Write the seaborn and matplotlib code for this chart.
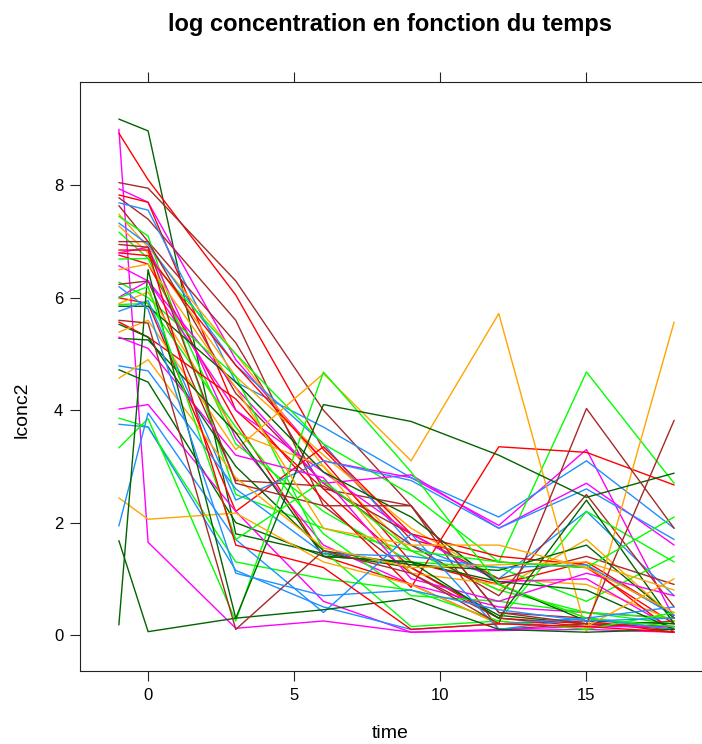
import numpy as np
import pandas as pd
import matplotlib
matplotlib.use("Agg")
import matplotlib.pyplot as plt
import seaborn as sns

times = [-1, 0, 3, 6, 9, 12, 15, 18]

colors = [
    "darkgreen", "magenta", "red", "brown", "magenta", "red", "brown", "dodgerblue",
    "brown", "orange", "lime", "dodgerblue", "orange", "lime", "brown", "red",
    "magenta", "red", "lime", "magenta", "lime", "brown", "magenta", "red",
    "orange", "lime", "darkgreen", "dodgerblue", "red", "darkgreen", "orange", "darkgreen",
    "magenta", "dodgerblue", "darkgreen", "orange", "magenta", "lime", "dodgerblue", "lime",
    "orange", "dodgerblue", "darkgreen", "darkgreen", "brown", "brown", "dodgerblue", "lime",
    "orange", "red",
]

lconc2 = [
    [9.18, 8.97, 1.80, 1.45, 1.20, 0.35, 0.20, 0.15],
    [9.00, 1.65, 0.12, 0.25, 0.05, 0.08, 0.10, 0.05],
    [8.93, 8.10, 6.05, 3.30, 1.70, 1.30, 1.20, 0.20],
    [8.05, 7.95, 6.30, 4.00, 2.30, 0.40, 0.30, 0.10],
    [7.94, 7.70, 4.90, 3.10, 2.80, 1.95, 3.30, 0.30],
    [7.83, 7.70, 4.00, 2.60, 1.20, 0.30, 0.20, 0.10],
    [7.78, 7.40, 5.60, 2.30, 1.10, 0.30, 0.15, 0.25],
    [7.69, 7.56, 4.50, 3.70, 2.80, 2.10, 3.10, 1.90],
    [7.64, 7.00, 5.20, 2.60, 2.30, 0.10, 0.20, 0.15],
    [7.49, 6.90, 5.00, 3.00, 1.50, 0.80, 1.70, 0.30],
    [7.45, 7.10, 2.50, 1.90, 1.50, 0.80, 0.40, 0.20],
    [7.33, 6.95, 4.80, 3.40, 1.60, 1.00, 2.20, 0.70],
    [7.28, 6.80, 4.60, 3.20, 1.90, 1.00, 0.90, 0.25],
    [7.17, 6.70, 5.00, 3.40, 2.50, 1.30, 4.68, 2.70],
    [7.00, 7.00, 4.30, 2.70, 1.60, 0.70, 2.50, 0.50],
    [6.80, 6.75, 4.80, 3.10, 1.30, 0.90, 1.30, 0.35],
    [6.80, 6.90, 3.50, 1.60, 0.90, 0.50, 0.40, 0.30],
    [6.76, 6.60, 3.80, 1.40, 0.90, 0.20, 0.25, 0.05],
    [6.69, 6.70, 3.40, 2.20, 1.30, 1.20, 0.60, 1.40],
    [6.57, 6.30, 4.40, 2.70, 2.85, 1.90, 2.70, 1.60],
    [6.28, 6.00, 4.60, 1.50, 0.15, 0.25, 2.20, 1.30],
    [6.24, 6.30, 2.75, 2.65, 1.80, 1.00, 1.40, 0.90],
    [6.01, 6.30, 4.00, 2.90, 1.80, 0.95, 1.00, 0.10],
    [6.00, 5.90, 2.20, 3.35, 1.80, 1.40, 1.25, 0.05],
    [5.90, 6.10, 3.60, 3.00, 1.10, 0.90, 0.30, 0.10],
    [5.88, 5.90, 3.70, 1.80, 0.70, 0.60, 0.40, 0.30],
    [5.85, 5.85, 4.50, 2.90, 2.10, 0.90, 0.25, 0.20],
    [5.76, 5.95, 2.40, 3.10, 2.75, 1.90, 2.60, 1.70],
    [5.57, 5.30, 4.20, 2.40, 0.85, 3.35, 3.25, 2.67],
    [5.53, 5.30, 3.00, 1.50, 1.25, 1.15, 1.60, 0.30],
    [5.39, 5.60, 3.30, 4.65, 3.10, 5.72, 0.05, 5.57],
    [5.28, 5.25, 3.60, 1.40, 1.30, 0.95, 0.80, 0.10],
    [5.30, 5.10, 3.20, 2.80, 1.00, 0.60, 1.10, 0.70],
    [4.79, 4.70, 2.60, 1.45, 1.40, 1.20, 1.25, 0.35],
    [4.72, 4.50, 2.00, 1.40, 1.30, 0.30, 2.40, 0.20],
    [4.57, 4.90, 2.80, 1.55, 1.20, 1.25, 1.30, 0.80],
    [4.02, 4.10, 2.20, 0.60, 0.05, 0.10, 0.15, 0.15],
    [3.86, 3.70, 1.30, 1.00, 0.80, 0.25, 0.10, 0.40],
    [3.75, 3.70, 1.15, 0.50, 0.10, 0.20, 0.30, 0.10],
    [3.33, 3.85, 0.25, 4.68, 2.90, 0.90, 0.30, 0.15],
    [2.44, 2.06, 2.17, 1.30, 0.90, 0.20, 0.15, 1.00],
    [1.94, 3.95, 1.70, 0.40, 1.80, 0.10, 0.30, 0.50],
    [1.68, 0.06, 0.30, 0.45, 0.65, 0.10, 0.05, 0.10],
    [0.18, 6.50, 0.30, 4.10, 3.80, 3.20, 2.45, 2.88],
    [5.60, 5.55, 0.10, 1.50, 1.10, 0.20, 4.03, 1.90],
    [6.95, 6.90, 2.70, 2.30, 2.30, 0.40, 0.20, 3.82],
    [6.20, 5.80, 1.10, 0.70, 0.80, 0.45, 0.25, 0.30],
    [6.00, 6.20, 1.70, 2.75, 1.50, 1.30, 1.20, 2.10],
    [6.50, 6.60, 4.40, 1.90, 1.60, 1.60, 1.20, 0.40],
    [6.85, 6.85, 1.60, 1.20, 0.10, 0.20, 0.15, 0.05],
]

xticks = [0, 5, 10, 15]
yticks = [0, 2, 4, 6, 8]
title = "log concentration en fonction du temps"

rows = []
for i, vals in enumerate(lconc2):
    for t, v in zip(times, vals):
        rows.append({"id": i, "time": t, "lconc2": v})
df = pd.DataFrame(rows)
palette = {i: c for i, c in enumerate(colors)}

sns.set_style("white")
plt.rcParams["font.family"] = ["Liberation Sans", "DejaVu Sans"]
plt.rcParams["text.color"] = "black"
plt.rcParams["xtick.color"] = "black"
plt.rcParams["ytick.color"] = "black"

W, H = 702, 744
fig = plt.figure(figsize=(W / 100, H / 100), dpi=100)
ax = fig.add_axes([80 / W, (H - 671) / H, 633 / W, 589 / H])

sns.lineplot(data=df, x="time", y="lconc2", hue="id", units="id", estimator=None,
             palette=palette, legend=False, linewidth=1.0, ax=ax, sort=False)

ax.set_xlim(-2.33, 19.33)
ax.set_ylim(-0.64, 9.84)
ax.set_xticks(xticks)
ax.set_yticks(yticks)
ax.set_xticklabels([str(v) for v in xticks], fontsize=12)
ax.set_yticklabels([str(v) for v in yticks], fontsize=12)
ax.tick_params(axis="both", direction="out", length=7, width=0.8, color="#222222",
               labelcolor="black", pad=5, top=True, labeltop=False, right=True,
               labelright=False, left=True, bottom=True)
for s in ax.spines.values():
    s.set_color("#222222")
    s.set_linewidth(0.8)
ax.set_xlabel("")
ax.set_ylabel("")

fig.text(390 / W, 1 - 24 / H, title, ha="center", va="center", fontsize=17,
         fontweight="bold", color="black")
fig.text(390 / W, 1 - 733 / H, "time", ha="center", va="center", fontsize=14, color="black")
fig.text(22 / W, 1 - 410 / H, "lconc2", ha="center", va="center", rotation=90,
         fontsize=14, color="black")

fig.savefig("out.png", dpi=100)
